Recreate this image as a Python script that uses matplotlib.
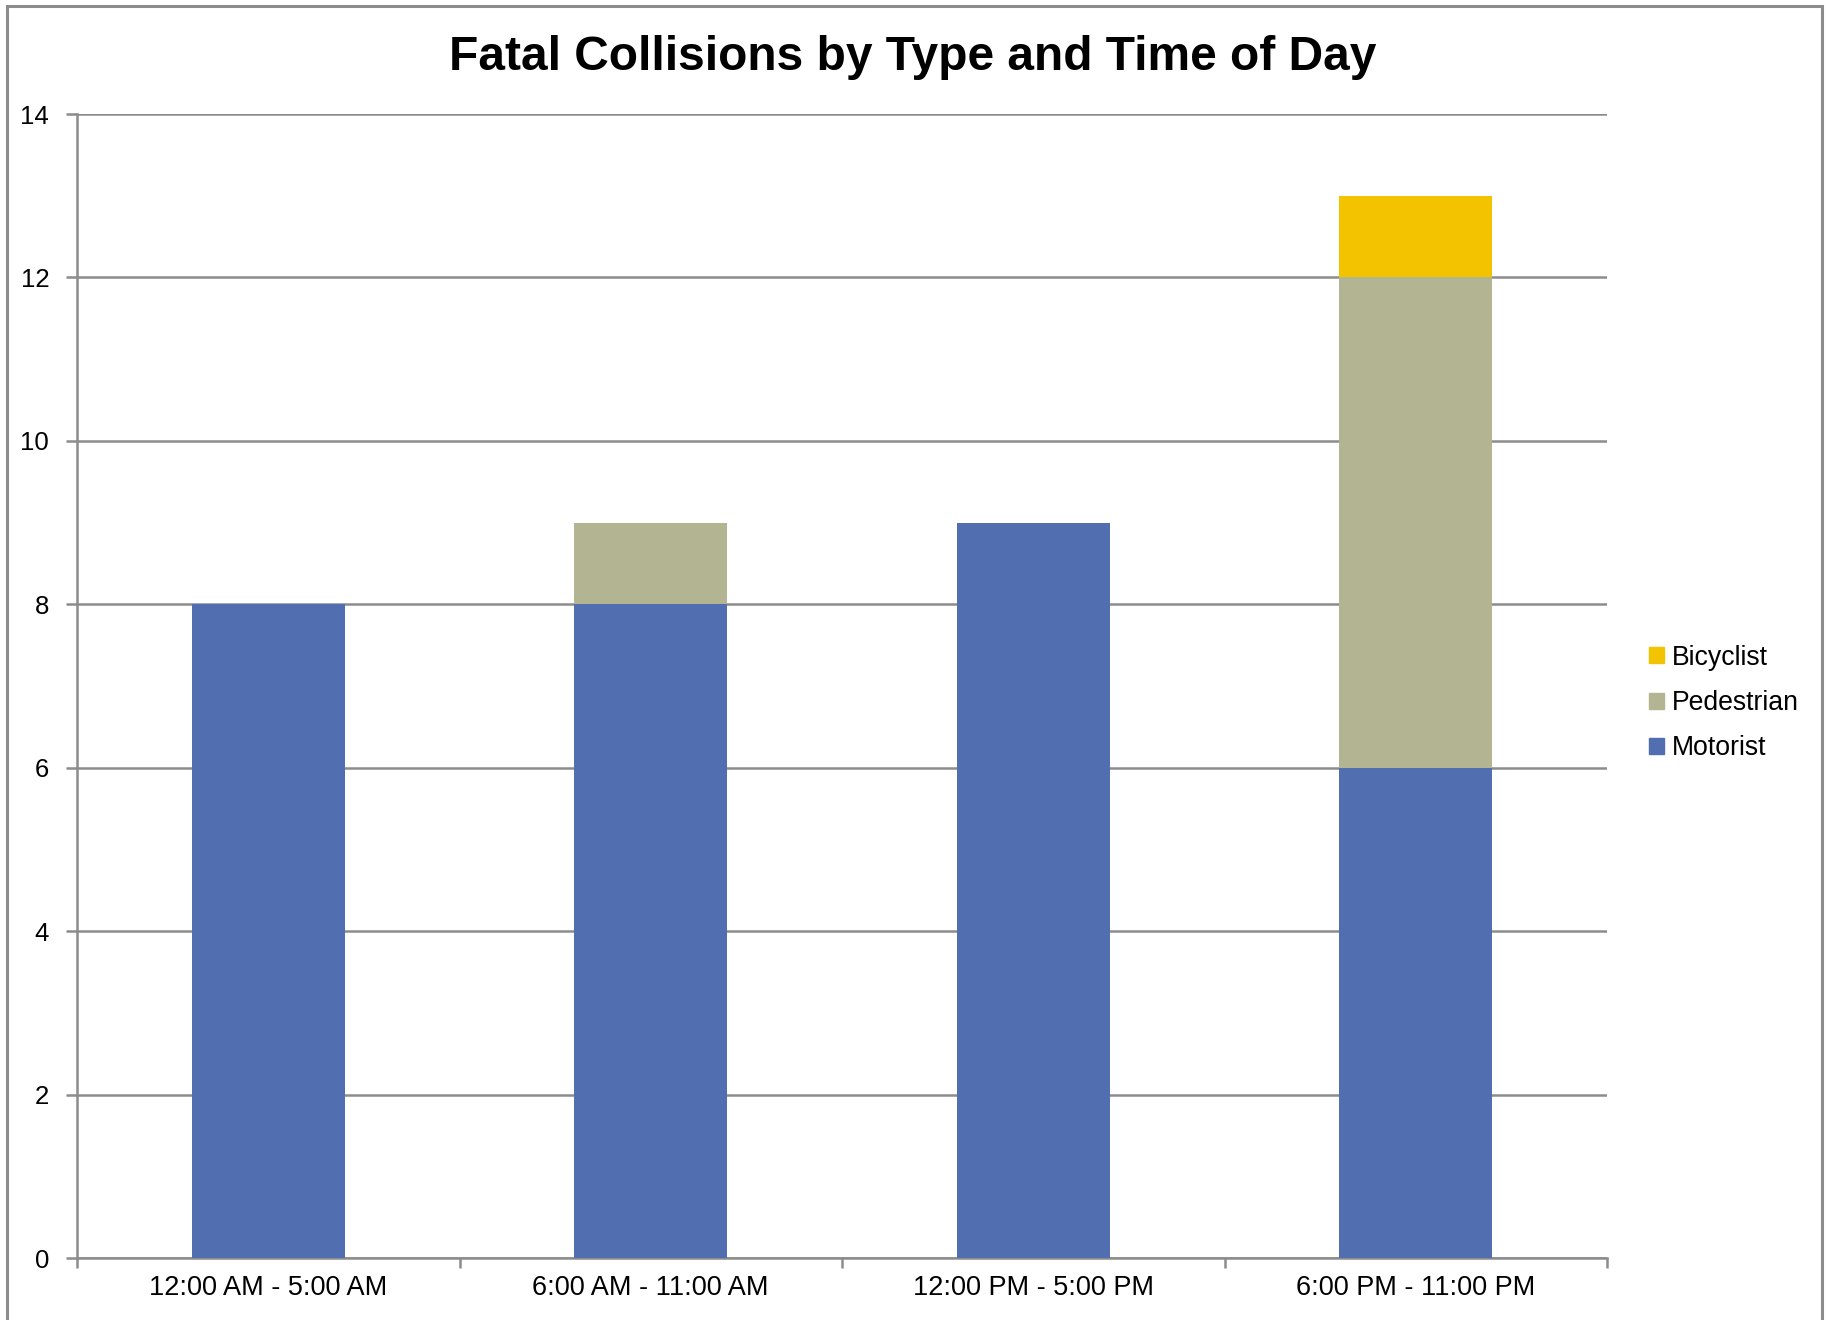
import matplotlib
matplotlib.use("Agg")
import matplotlib.pyplot as plt
from matplotlib.patches import Rectangle, Patch
import numpy as np

plt.rcParams['font.family'] = ['Liberation Sans', 'DejaVu Sans']

categories = ["12:00 AM - 5:00 AM", "6:00 AM - 11:00 AM", "12:00 PM - 5:00 PM", "6:00 PM - 11:00 PM"]
motorist = [8, 8, 9, 6]
pedestrian = [0, 1, 0, 6]
bicyclist = [0, 0, 0, 1]
y_ticks = [0, 2, 4, 6, 8, 10, 12, 14]

c_mot = "#516EB0"
c_ped = "#B3B491"
c_bic = "#F3C300"
grid_c = "#8C8C8C"

W, H = 1826, 1320
fig = plt.figure(figsize=(W / 100, H / 100), dpi=100)
# outer chart border
fig.patches.append(Rectangle((7 / W, -0.01), (1822 - 7) / W, (H - 6) / H + 0.01,
                             transform=fig.transFigure, fill=False,
                             edgecolor="#8C8C8C", linewidth=2.2))

ax = fig.add_axes([77 / W, 1 - 1258 / H, (1607 - 77) / W, (1258 - 114) / H])
x = np.arange(len(categories))
bw = 0.4
mot = np.array(motorist)
ped = np.array(pedestrian)
bic = np.array(bicyclist)
ax.bar(x, mot, bw, color=c_mot, zorder=3, label="Motorist")
ax.bar(x, ped, bw, bottom=mot, color=c_ped, zorder=3, label="Pedestrian")
ax.bar(x, bic, bw, bottom=mot + ped, color=c_bic, zorder=3, label="Bicyclist")

ax.set_xlim(-0.5, len(categories) - 0.5)
ax.set_ylim(0, 14)
ax.set_yticks(y_ticks)
ax.set_yticklabels([str(t) for t in y_ticks], fontsize=18.5)
ax.yaxis.grid(True, color=grid_c, linewidth=1.8, zorder=0)
ax.set_axisbelow(True)

ax.set_xticks(x)
ax.set_xticklabels(categories, fontsize=19.5)
ax.tick_params(axis='x', length=0, pad=12)
ax.set_xticks(np.arange(-0.5, len(categories), 1.0), minor=True)
ax.tick_params(axis='x', which='minor', length=7, width=1.8, color=grid_c, direction='out')
ax.tick_params(axis='y', length=8, width=1.8, color=grid_c, direction='out', pad=12)

for s in ["top", "right"]:
    ax.spines[s].set_visible(False)
for s in ["left", "bottom"]:
    ax.spines[s].set_color(grid_c)
    ax.spines[s].set_linewidth(1.8)

fig.text(0.5, 1 - 57 / H, "Fatal Collisions by Type and Time of Day",
         ha="center", va="center", fontsize=34.5, fontweight="bold")

handles = [Patch(color=c_bic, label="Bicyclist"),
           Patch(color=c_ped, label="Pedestrian"),
           Patch(color=c_mot, label="Motorist")]
fig.legend(handles=handles, loc="center left", bbox_to_anchor=(1649 / W, 1 - 703 / H),
           frameon=False, fontsize=19.2, handlelength=0.55, handleheight=0.55,
           handletextpad=0.3, labelspacing=0.72, borderpad=0, borderaxespad=0)

fig.savefig("out.png", dpi=100)
